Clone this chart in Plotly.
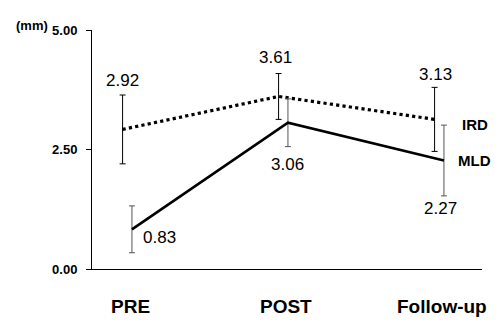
import plotly.graph_objects as go

categories = ["PRE", "POST", "Follow-up"]
ird_mean = [2.92, 3.61, 3.13]
ird_sd = [0.72, 0.48, 0.67]
mld_mean = [0.83, 3.06, 2.27]
mld_sd = [0.49, 0.50, 0.74]
y_ticks = [0.0, 2.5, 5.0]

xpos = list(range(len(categories)))
ird_x = [p - 0.03 for p in xpos]
mld_x = [p + 0.03 for p in xpos]

FONT = "Liberation Sans, Arial, sans-serif"

fig = go.Figure()
fig.add_trace(go.Scatter(
    x=ird_x, y=ird_mean, mode="lines",
    line=dict(color="black", width=3.2, dash="dot"),
    error_y=dict(type="data", array=ird_sd, color="black", thickness=1, width=3),
    showlegend=False, hoverinfo="skip"))
fig.add_trace(go.Scatter(
    x=mld_x, y=mld_mean, mode="lines",
    line=dict(color="black", width=2.6),
    error_y=dict(type="data", array=mld_sd, color="#555", thickness=1, width=3),
    showlegend=False, hoverinfo="skip"))

# value labels
ird_shift = [(0, 49), (-3, 39), (1, 45)]
mld_shift = [(28, -8), (0, -42), (-3, -48)]
for x, v, (dx, dy) in zip(ird_x, ird_mean, ird_shift):
    fig.add_annotation(x=x, y=v, text=f"{v:.2f}", showarrow=False,
                       xshift=dx, yshift=dy, font=dict(family=FONT, size=17, color="black"))
for x, v, (dx, dy) in zip(mld_x, mld_mean, mld_shift):
    fig.add_annotation(x=x, y=v, text=f"{v:.2f}", showarrow=False,
                       xshift=dx, yshift=dy, font=dict(family=FONT, size=17, color="black"))

# series labels
fig.add_annotation(x=ird_x[-1], y=ird_mean[-1], text="<b>IRD</b>", showarrow=False,
                   xshift=40, yshift=-5, font=dict(family=FONT, size=15, color="black"))
fig.add_annotation(x=mld_x[-1], y=mld_mean[-1], text="<b>MLD</b>", showarrow=False,
                   xshift=31, yshift=0, font=dict(family=FONT, size=15, color="black"))

# category labels
for p, c in zip(xpos, categories):
    fig.add_annotation(x=p + 0.02, y=0, yref="paper", text=f"<b>{c}</b>", showarrow=False,
                       yanchor="middle", yshift=-37, font=dict(family=FONT, size=19, color="black"))

# unit label
fig.add_annotation(x=0, y=1, xref="paper", yref="paper", text="<b>(mm)</b>", showarrow=False,
                   xanchor="right", yanchor="middle", xshift=-42, yshift=5,
                   font=dict(family=FONT, size=13, color="black"))

fig.update_layout(
    width=500, height=326,
    margin=dict(l=92, r=18, t=30, b=57),
    paper_bgcolor="white", plot_bgcolor="white",
    xaxis=dict(range=[-0.226, 2.274], showticklabels=False, showgrid=False,
               zeroline=False, showline=True, linecolor="black", linewidth=1, ticks=""),
    yaxis=dict(range=[0, 5], tickvals=y_ticks, tickformat=".2f", showgrid=False,
               zeroline=False, showline=True, linecolor="black", linewidth=1,
               ticks="outside", ticklen=5, tickcolor="black",
               tickfont=dict(family="Liberation Sans, Arial, sans-serif", size=13, color="black", weight="bold"),
               ticklabelstandoff=6),
)

fig.write_html("out.html")
